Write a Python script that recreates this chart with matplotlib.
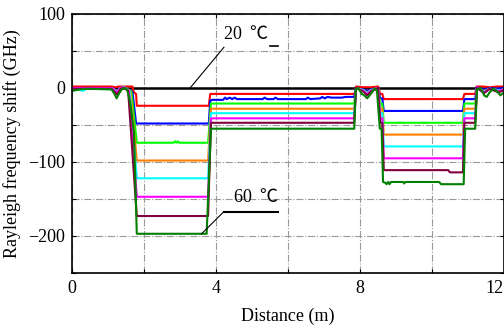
import matplotlib
matplotlib.use('Agg')
import matplotlib.pyplot as plt

plt.rcParams['font.family'] = ['Liberation Serif', 'Noto Sans CJK SC', 'DejaVu Sans']
plt.rcParams['font.size'] = 13

# 20 ℃ (reference)
dist_20 = [0.0, 12.0]
shift_20 = [0.0, 0.0]

# 25 ℃
dist_25 = [0.0, 1.1, 1.2, 1.3, 1.45, 1.68, 1.72, 1.78, 1.8, 3.8, 3.84, 7.85, 7.89, 8.1, 8.3, 8.5,
           8.56, 8.62, 8.66, 10.86, 10.9, 11.2, 11.24, 11.4, 11.6, 11.8, 12.0]
shift_25 = [2, 2, 1, 2, 2, 2, -6, -8, -24, -24, -8, -8, 2, 1, 1, 2,
            -8, -8, -15, -15, -8, -8, 2, 2, 1, 2, 2]

# 30 ℃
dist_30 = [0.0, 0.3, 1.1, 1.25, 1.35, 1.45, 1.68, 1.78, 3.8, 3.84, 3.9, 4.2, 4.25, 4.3, 4.38, 4.45,
           4.52, 4.58, 5.3, 5.35, 5.42, 5.6, 5.65, 5.72, 6.5, 6.55, 6.62, 6.9, 6.95, 7.02, 7.1,
           7.2, 7.5, 7.6, 7.84, 7.88, 8.1, 8.2, 8.3, 8.5, 8.56, 8.62, 8.66, 10.86, 10.9, 11.2,
           11.24, 11.45, 11.6, 11.8, 12.0]
shift_30 = [0, 0, 0, -3, 0, 1, -5, -48, -48, -17, -16, -16, -13, -15, -13, -15,
            -13, -15, -15, -13, -15, -15, -13, -15, -15, -13, -15, -14, -12, -14, -12,
            -13, -13, -12, -12, 0, -2, -4, -2, 0, -14, -14, -31, -31, -15, -15,
            1, -2, 0, -1, 0]

# 35 ℃
dist_35 = [0.0, 0.15, 0.3, 1.1, 1.25, 1.35, 1.45, 1.65, 1.8, 2.82, 2.86, 2.9, 2.94, 2.98, 3.78,
           3.86, 7.84, 7.89, 8.1, 8.2, 8.3, 8.5, 8.56, 8.62, 8.66, 10.86, 10.9, 11.2, 11.25,
           11.45, 11.6, 11.85, 12.0]
shift_35 = [-1, -2, -1, -1, -8, -1, 1, -5, -74, -74, -72, -74, -72, -74, -74,
            -21, -21, 0, -4, -8, -4, 0, -21, -21, -47, -47, -21, -21, 0,
            -5, -1, -4, -2]

# 40 ℃
dist_40 = [0.0, 0.3, 1.1, 1.25, 1.35, 1.45, 1.62, 1.8, 3.78, 3.86, 7.84, 7.89, 8.1, 8.2, 8.3,
           8.5, 8.56, 8.62, 8.66, 10.86, 10.9, 11.2, 11.25, 11.45, 11.6, 11.85, 12.0]
shift_40 = [0, 0, 0, -4, 0, 1, -4, -98, -98, -28, -28, 0, -3, -6, -3,
            0, -28, -28, -63, -63, -28, -28, 0, -4, -1, -3, -2]

# 45 ℃
dist_45 = [0.0, 0.2, 0.3, 0.4, 1.1, 1.25, 1.35, 1.45, 1.6, 1.8, 3.78, 3.86, 7.84, 7.89, 8.1,
           8.2, 8.3, 8.5, 8.56, 8.62, 8.66, 10.86, 10.9, 11.2, 11.25, 11.45, 11.6, 11.85, 12.0]
shift_45 = [-1, -2, -4, -1, 0, -5, 0, 1, -4, -122, -122, -34, -34, 0, -3,
            -7, -3, 0, -34, -34, -79, -79, -34, -34, 0, -5, -1, -3, -2]

# 50 ℃
dist_50 = [0.0, 0.3, 1.1, 1.25, 1.35, 1.45, 1.58, 1.8, 3.78, 3.86, 7.84, 7.89, 8.1, 8.2, 8.3,
           8.5, 8.56, 8.62, 8.66, 10.86, 10.9, 11.2, 11.25, 11.45, 11.6, 11.85, 12.0]
shift_50 = [0, 0, 0, -6, 0, 1, -4, -147, -147, -41, -41, 0, -4, -8, -4,
            0, -41, -41, -95, -95, -41, -41, 1, -6, -1, -4, -2]

# 55 ℃
dist_55 = [0.0, 0.3, 1.1, 1.25, 1.35, 1.45, 1.56, 1.8, 3.78, 3.86, 7.84, 7.89, 8.1, 8.2, 8.3,
           8.5, 8.56, 8.62, 8.66, 10.45, 10.5, 10.86, 10.9, 11.2, 11.25, 11.45, 11.6, 11.85,
           12.0]
shift_55 = [-1, -1, -1, -9, -1, 0, -4, -173, -173, -47, -47, 0, -5, -10, -5,
            0, -47, -47, -111, -111, -114, -114, -47, -47, 0, -7, -1, -6, -3]

# 60 ℃
dist_60 = [0.0, 0.1, 0.2, 0.4, 1.1, 1.18, 1.24, 1.3, 1.38, 1.45, 1.53, 1.62, 1.72, 1.8, 3.74,
           3.86, 7.84, 7.88, 7.95, 8.05, 8.12, 8.2, 8.3, 8.4, 8.47, 8.55, 8.6, 8.64, 8.7, 8.74,
           8.78, 8.82, 8.86, 9.2, 9.23, 9.26, 10.2, 10.25, 10.88, 10.92, 11.2, 11.25, 11.35,
           11.45, 11.52, 11.6, 11.7, 11.8, 11.9, 12.0]
shift_60 = [-4, -3, -2, -1, -2, -8, -14, -8, -2, 0, -2, -20, -60, -197, -197,
            -55, -55, -2, 0, -8, -10, -14, -8, -1, -3, -55, -55, -127, -128, -130,
            -127, -130, -127, -127, -129, -127, -127, -130, -130, -55, -55, -2, 0,
            -10, -12, -6, -1, -4, -10, -6]

curves = [
    (dist_20, shift_20, 'black', 1.8),
    (dist_25, shift_25, '#ff0000', 1.5),
    (dist_30, shift_30, '#0000ff', 1.5),
    (dist_35, shift_35, '#00ff00', 1.5),
    (dist_40, shift_40, '#ff8000', 1.5),
    (dist_45, shift_45, '#00ffff', 1.5),
    (dist_50, shift_50, '#ff00ff', 1.5),
    (dist_55, shift_55, '#800040', 1.5),
    (dist_60, shift_60, '#008000', 1.5),
]

xticks = [0, 2, 4, 6, 8, 10, 12]
xtick_labels = ['0', '', '4', '', '8', '', '12']
yticks = [-250, -200, -150, -100, -50, 0, 50, 100]
ytick_labels = ['', '\u2212200', '', '\u2212100', '', '0', '', '100']

fig = plt.figure(figsize=(5.04, 3.29), dpi=100)
ax = fig.add_axes([72 / 504, 1 - 273 / 329, 1 - 72 / 504, 259 / 329])

for d, s, c, lw in curves:
    ax.plot(d, s, color=c, lw=lw)

ax.set_xlim(0, 12)
ax.set_ylim(-250, 100)
ax.set_xticks(xticks)
ax.set_xticklabels(xtick_labels)
ax.set_yticks(yticks)
ax.set_yticklabels(ytick_labels)
ax.tick_params(direction='in', length=3, top=True, right=True, pad=5)
ax.get_xticklabels()[-1].set_ha('right')
ax.grid(True, ls='-.', color='#999999', lw=0.8)
ax.set_axisbelow(True)
for sp in ax.spines.values():
    sp.set_linewidth(1.2)

ax.set_xlabel('Distance (m)', labelpad=8)
ax.set_ylabel('Rayleigh frequency shift (GHz)', labelpad=5)

# 温度标注
ax.plot([3.28, 4.22], [0, 55], color='black', lw=0.8)
ax.plot([5.5, 5.72], [57, 57], color='black', lw=1.2)
ax.text(4.83, 72, '20\u2009 \u2103', ha='center', va='center', fontsize=13)
ax.plot([3.6, 4.22], [-197, -167], color='black', lw=0.8)
ax.plot([4.22, 5.72], [-167, -167], color='black', lw=1.5)
ax.text(5.11, -148, '60\u2009 \u2103', ha='center', va='center', fontsize=13)

plt.savefig('out.png', dpi=100)
